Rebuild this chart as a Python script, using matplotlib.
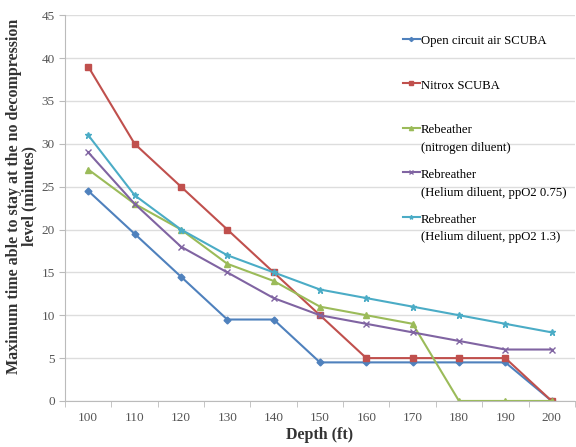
import matplotlib.pyplot as plt
import matplotlib.transforms as mtransforms
from matplotlib.legend_handler import HandlerLine2D
import numpy as np

depth = [100, 110, 120, 130, 140, 150, 160, 170, 180, 190, 200]
open_circuit = [24.5, 19.5, 14.5, 9.5, 9.5, 4.5, 4.5, 4.5, 4.5, 4.5, 0]
nitrox = [39, 30, 25, 20, 15, 10, 5, 5, 5, 5, 0]
rebreather_n2 = [27, 23, 20, 16, 14, 11, 10, 9, 0, 0, 0]
rebreather_he075 = [29, 23, 18, 15, 12, 10, 9, 8, 7, 6, 6]
rebreather_he13 = [31, 24, 20, 17, 15, 13, 12, 11, 10, 9, 8]

# trailing newline keeps every legend entry two lines tall, like the original
labels = ['Open circuit air SCUBA\n', 'Nitrox SCUBA\n',
          'Rebeather\n(nitrogen diluent)',
          'Rebreather\n(Helium diluent, ppO2 0.75)',
          'Rebreather\n(Helium diluent, ppO2 1.3)']


class FirstLineHandler(HandlerLine2D):
  # move the legend sample up to the first text line
  def create_artists(self, legend, orig_handle, xdescent, ydescent, width, height, fontsize, trans):
    arts = super().create_artists(legend, orig_handle, xdescent, ydescent, width, height, fontsize, trans)
    shift = mtransforms.Affine2D().translate(0, fontsize * 0.9)
    for a in arts:
      a.set_transform(shift + trans)
    return arts


def main():
  plt.rcParams['font.family'] = ['Liberation Serif', 'DejaVu Serif']
  fig = plt.figure(figsize=(5.76, 4.47), dpi=100)
  ax = fig.add_axes([0.113, 0.103, 0.885, 0.863])

  series = [open_circuit, nitrox, rebreather_n2, rebreather_he075, rebreather_he13]
  colors = ['#4F81BD', '#C0504D', '#9BBB59', '#8064A2', '#4BACC6']
  markers = ['D', 's', '^', 'x', '*']
  sizes = [3.5, 5, 5, 5, 5]
  lines = []
  for s, c, m, ms, lab in zip(series, colors, markers, sizes, labels):
    ln, = ax.plot(depth, s, color=c, marker=m, markersize=ms, linewidth=1.5, label=lab)
    lines.append(ln)

  ax.set_xlim(95, 205)
  ax.set_ylim(0, 45)
  ax.set_yticks(np.arange(0, 46, 5))
  ax.set_xticks(depth)
  ax.set_xticks(np.arange(95, 206, 10), minor=True)
  ax.tick_params(axis='x', which='major', length=0, labelsize=9.5, colors='#555555', pad=8)
  ax.tick_params(axis='x', which='minor', length=4, color='#bbbbbb')
  ax.tick_params(axis='y', length=4, color='#bbbbbb', labelsize=9.5, labelcolor='#555555')
  ax.grid(axis='y', color='#dddddd', linewidth=1)
  ax.set_axisbelow(True)
  for side in ['top', 'right']:
    ax.spines[side].set_visible(False)
  ax.spines['left'].set_color('#bbbbbb')
  ax.spines['bottom'].set_color('#bbbbbb')

  ax.set_xlabel('Depth (ft)', fontsize=11.5, fontweight='bold', color='#333333', labelpad=2)
  ax.set_ylabel('Maximum time able to stay at the no decompression\nlevel (minutes)',
                fontsize=11.5, fontweight='bold', color='#333333', linespacing=0.95)
  ax.yaxis.set_label_coords(-0.055, 0.531)

  leg = ax.legend(handles=lines, loc='upper left', bbox_to_anchor=(0.653, 0.961),
                  borderaxespad=0, frameon=False, fontsize=9.2, handlelength=1.3,
                  handletextpad=0.1, labelspacing=1.15, markerscale=0.6,
                  handler_map={ln: FirstLineHandler() for ln in lines})
  for t in leg.get_texts():
    t.set_linespacing(1.65)

  plt.savefig('out.png', dpi=100)

if __name__ == '__main__':
  main()
